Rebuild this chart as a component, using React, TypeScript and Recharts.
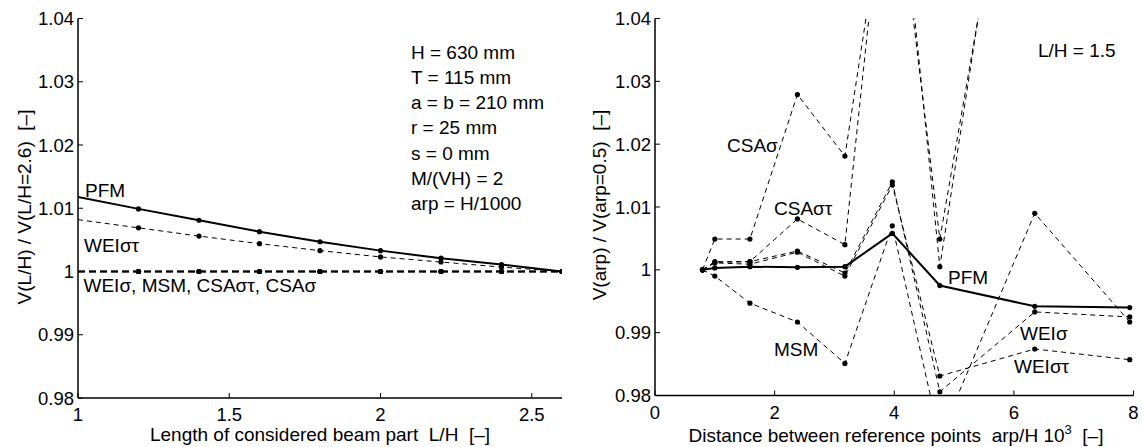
import React from 'react';
import { LineChart, Line, XAxis, YAxis } from 'recharts';

// ---------- Left panel data (L/H) ----------
const leftX = [1, 1.2, 1.4, 1.6, 1.8, 2.0, 2.2, 2.4, 2.6];
const leftPFM = [1.0118, 1.0099, 1.0081, 1.0063, 1.0047, 1.0033, 1.0021, 1.0011, 1.0];
const leftWEIst = [1.0082, 1.0069, 1.0056, 1.0044, 1.0033, 1.0023, 1.0015, 1.0007, 1.0];
const leftWEIs = [1.0, 1.0, 1.0, 1.0, 1.0, 1.0, 1.0, 1.0, 1.0];
const leftMSM = [1.0, 1.0, 1.0, 1.0, 1.0, 1.0, 1.0, 1.0, 1.0];
const leftCSAst = [1.0, 1.0, 1.0, 1.0, 1.0, 1.0, 1.0, 1.0, 1.0];
const leftCSAs = [1.0, 1.0, 1.0, 1.0, 1.0, 1.0, 1.0, 1.0, 1.0];

// ---------- Right panel data (arp/H 10^3) ----------
const rightX = [0.794, 1.0, 1.587, 2.381, 3.175, 3.968, 4.762, 6.349, 7.937];
const rightPFM = [1.0, 1.0003, 1.0005, 1.0004, 1.0005, 1.0058, 0.9975, 0.9942, 0.994];
const rightWEIs = [1.0, 1.0012, 1.0013, 1.003, 0.9995, 1.014, 0.9806, 0.9933, 0.9925];
const rightWEIst = [1.0, 1.0011, 1.0009, 1.0028, 0.999, 1.0135, 0.9831, 0.9874, 0.9857];
const rightMSM = [1.0, 0.999, 0.9947, 0.9917, 0.9851, 1.007, 0.9733, 1.009, 0.9917];
const rightCSAst = [1.0, 1.0013, 1.0013, 1.0081, 1.004, 1.0753, 1.0005, 1.0985, 1.09];
const rightCSAs = [1.0, 1.0049, 1.0049, 1.0279, 1.0181, 1.0675, 1.0049, 1.092, 1.085];

// ---------- Ticks ----------
const yTicks = [0.98, 0.99, 1.0, 1.01, 1.02, 1.03, 1.04];
const leftXTicks = [1, 1.5, 2, 2.5];
const rightXTicks = [0, 2, 4, 6, 8];

const leftData = leftX.map((x, i) => ({
  x,
  PFM: leftPFM[i],
  WEIst: leftWEIst[i],
  WEIs: leftWEIs[i],
  MSM: leftMSM[i],
  CSAst: leftCSAst[i],
  CSAs: leftCSAs[i],
}));

const rightData = rightX.map((x, i) => ({
  x,
  PFM: rightPFM[i],
  WEIs: rightWEIs[i],
  WEIst: rightWEIst[i],
  MSM: rightMSM[i],
  CSAst: rightCSAst[i],
  CSAs: rightCSAs[i],
}));

const FONT = '"Liberation Sans", Arial, Helvetica, sans-serif';
const TICK_FS = 18.5;
const FS = 19;
const TL = 5; // inner tick length

const fmt = (v: number) => String(Math.round(v * 100) / 100);

// bottom axis: (x, y) = (coordinate, axis line y)
const XTick = (props: any) => {
  const { x, y, payload } = props;
  return (
    <g>
      <line x1={x} x2={x} y1={y} y2={y - TL} stroke="#000" strokeWidth={1} />
      <text x={x} y={y + 23} textAnchor="middle" fontFamily={FONT} fontSize={TICK_FS} fill="#000">
        {fmt(payload.value)}
      </text>
    </g>
  );
};

// top axis: (x, y) = (coordinate, axis line y)
const TopTick = (props: any) => {
  const { x, y } = props;
  return <line x1={x} x2={x} y1={y} y2={y + TL} stroke="#000" strokeWidth={1} />;
};

// left axis: (x, y) = (axis line x, coordinate)
const YTick = (props: any) => {
  const { x, y, payload } = props;
  return (
    <g>
      <line x1={x} x2={x + TL} y1={y} y2={y} stroke="#000" strokeWidth={1} />
      <text x={x - 4} y={y + 6.6} textAnchor="end" fontFamily={FONT} fontSize={TICK_FS} fill="#000">
        {fmt(payload.value)}
      </text>
    </g>
  );
};

// right axis: (x, y) = (axis line x, coordinate)
const RightTick = (props: any) => {
  const { x, y } = props;
  return <line x1={x} x2={x - TL} y1={y} y2={y} stroke="#000" strokeWidth={1} />;
};

const makeDot = (skipFirst: boolean) => (props: any) => {
  const { cx, cy, index, payload } = props;
  const k = `d-${props.dataKey}-${index}`;
  if (skipFirst && payload && payload.x === 1) return <g key={k} />;
  if (cx == null || cy == null) return <g key={k} />;
  return <circle key={k} cx={cx} cy={cy} r={2.6} fill="#000" stroke="none" />;
};

const AXIS_STROKE = { stroke: '#000', strokeWidth: 1.5 };

type SeriesStyle = { key: string; width: number; dash?: string };

const leftStyles: SeriesStyle[] = [
  { key: 'CSAs', width: 1.6, dash: '7 4' },
  { key: 'CSAst', width: 1.6, dash: '7 4' },
  { key: 'MSM', width: 1.6, dash: '7 4' },
  { key: 'WEIs', width: 1.6, dash: '7 4' },
  { key: 'WEIst', width: 1, dash: '5 4' },
  { key: 'PFM', width: 2 },
];

const rightStyles: SeriesStyle[] = [
  { key: 'CSAs', width: 1, dash: '5 4' },
  { key: 'CSAst', width: 1, dash: '5 4' },
  { key: 'MSM', width: 1, dash: '5 4' },
  { key: 'WEIs', width: 1, dash: '5 4' },
  { key: 'WEIst', width: 1, dash: '5 4' },
  { key: 'PFM', width: 2 },
];

function Panel(props: {
  data: any[];
  width: number;
  yAxisWidth: number;
  right: number;
  xAxisHeight: number;
  xDomain: [number, number];
  xTicks: number[];
  skipFirst: boolean;
  styles: SeriesStyle[];
}) {
  const { data, width, yAxisWidth, right, xAxisHeight, xDomain, xTicks, skipFirst, styles } = props;
  const dot = makeDot(skipFirst);
  return (
    <LineChart
      width={width}
      height={447}
      data={data}
      margin={{ top: 18.5, right, bottom: 0, left: 0 }}
    >
      <XAxis
        dataKey="x"
        type="number"
        domain={xDomain}
        ticks={xTicks}
        allowDataOverflow
        height={xAxisHeight}
        tickSize={0}
        tickMargin={0}
        tick={<XTick />}
        axisLine={AXIS_STROKE}
        tickLine={false}
        interval={0}
      />
      <XAxis
        xAxisId="top"
        orientation="top"
        dataKey="x"
        type="number"
        domain={xDomain}
        ticks={xTicks}
        allowDataOverflow
        height={0}
        tickSize={0}
        tickMargin={0}
        tick={<TopTick />}
        axisLine={AXIS_STROKE}
        tickLine={false}
        interval={0}
      />
      <YAxis
        type="number"
        domain={[0.98, 1.04]}
        ticks={yTicks}
        allowDataOverflow
        width={yAxisWidth}
        tickSize={0}
        tickMargin={0}
        tick={<YTick />}
        axisLine={AXIS_STROKE}
        tickLine={false}
        interval={0}
      />
      <YAxis
        yAxisId="right"
        orientation="right"
        type="number"
        domain={[0.98, 1.04]}
        ticks={yTicks}
        allowDataOverflow
        width={0}
        tickSize={0}
        tickMargin={0}
        tick={<RightTick />}
        axisLine={AXIS_STROKE}
        tickLine={false}
        interval={0}
      />
      {styles.map((s) => (
        <Line
          key={s.key}
          type="linear"
          dataKey={s.key}
          stroke="#000"
          strokeWidth={s.width}
          strokeDasharray={s.dash}
          dot={dot}
          activeDot={false}
          isAnimationActive={false}
          legendType="none"
        />
      ))}
    </LineChart>
  );
}

const T = (p: { x: number; y: number; children: React.ReactNode; anchor?: string; fs?: number }) => (
  <text
    x={p.x}
    y={p.y}
    textAnchor={(p.anchor as any) || 'start'}
    fontFamily={FONT}
    fontSize={p.fs || FS}
    fill="#000"
    style={{ whiteSpace: 'pre' }}
  >
    {p.children}
  </text>
);

const paramLines = [
  'H = 630 mm',
  'T = 115 mm',
  'a = b = 210 mm',
  'r = 25 mm',
  's = 0 mm',
  'M/(VH) = 2',
  'arp = H/1000',
];

export default function App() {
  return (
    <div style={{ position: 'absolute', left: 0, top: 0, width: 1142, height: 447, background: '#fff' }}>
      <div style={{ position: 'absolute', left: 0, top: 0 }}>
        <Panel
          data={leftData}
          width={575}
          yAxisWidth={78}
          right={13}
          xAxisHeight={49}
          xDomain={[1, 2.6]}
          xTicks={leftXTicks}
          skipFirst={true}
          styles={leftStyles}
        />
      </div>
      <div style={{ position: 'absolute', left: 575, top: 0 }}>
        <Panel
          data={rightData}
          width={567}
          yAxisWidth={80}
          right={8.5}
          xAxisHeight={51.5}
          xDomain={[0, 8]}
          xTicks={rightXTicks}
          skipFirst={false}
          styles={rightStyles}
        />
      </div>
      <svg
        width={1142}
        height={447}
        style={{ position: 'absolute', left: 0, top: 0, pointerEvents: 'none' }}
      >
        {/* Left panel annotations */}
        {paramLines.map((s, i) => (
          <T key={s} x={411} y={58.5 + i * 25.3}>
            {s}
          </T>
        ))}
        <T x={85} y={197}>PFM</T>
        <T x={84} y={251.5}>WEIστ</T>
        <T x={83.5} y={292}>WEIσ, MSM, CSAστ, CSAσ</T>
        <T x={320} y={440.5} anchor="middle">Length of considered beam part  L/H  [–]</T>
        <text
          x={31}
          y={207}
          transform="rotate(-90 31 207)"
          textAnchor="middle"
          fontFamily={FONT}
          fontSize={FS}
          fill="#000"
          style={{ whiteSpace: 'pre' }}
        >
          V(L/H) / V(L/H=2.6)  [–]
        </text>

        {/* Right panel annotations */}
        <T x={1038} y={57}>L/H = 1.5</T>
        <T x={727} y={151.5}>CSAσ</T>
        <T x={774} y={215}>CSAστ</T>
        <T x={774} y={356}>MSM</T>
        <T x={948} y={283.5}>PFM</T>
        <T x={1020} y={339.5}>WEIσ</T>
        <T x={1014} y={373}>WEIστ</T>
        <text
          x={896}
          y={442}
          textAnchor="middle"
          fontFamily={FONT}
          fontSize={FS}
          fill="#000"
          style={{ whiteSpace: 'pre' }}
        >
          Distance between reference points  arp/H 10
          <tspan dy={-8} fontSize={13}>3</tspan>
          <tspan dy={8}>  [–]</tspan>
        </text>
        <text
          x={606}
          y={205}
          transform="rotate(-90 606 205)"
          textAnchor="middle"
          fontFamily={FONT}
          fontSize={FS}
          fill="#000"
          style={{ whiteSpace: 'pre' }}
        >
          V(arp) / V(arp=0.5)  [–]
        </text>
      </svg>
    </div>
  );
}
